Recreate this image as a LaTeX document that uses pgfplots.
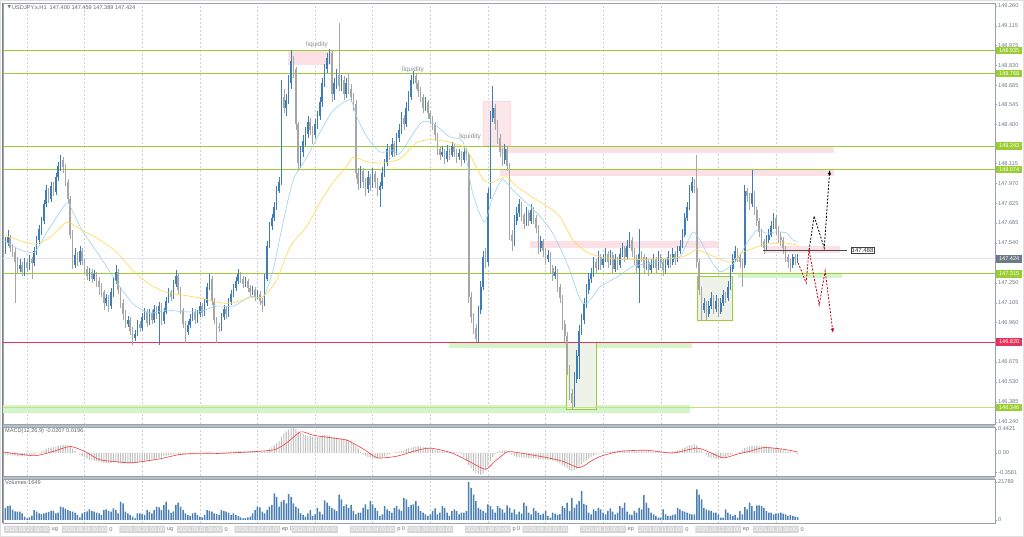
\documentclass[border=0pt]{standalone}
\usepackage{fontspec}
\setmainfont{Liberation Sans}
\newfontfamily\dejavu{DejaVu Sans}
\usepackage{pgfplots}
\usepackage{pgfplotstable}
\pgfplotsset{compat=1.18}
\usetikzlibrary{arrows.meta}
\definecolor{upc}{HTML}{3F7DB8}
\definecolor{dnc}{HTML}{A6A6A6}
\definecolor{lvl}{HTML}{9ACD32}
\definecolor{redl}{HTML}{E8315A}
\definecolor{pinkf}{HTML}{FBE1E5}
\definecolor{greenf}{HTML}{D4F5CA}
\definecolor{boxf}{HTML}{EEF2E8}
\definecolor{maBlue}{HTML}{9CD2EE}
\definecolor{maYel}{HTML}{FFD84A}
\definecolor{tickc}{HTML}{6E7B88}
\definecolor{framec}{HTML}{9AA3AD}
\definecolor{volc}{HTML}{4A7FB5}
\definecolor{histc}{HTML}{C2C2C2}
\definecolor{sigc}{HTML}{F03C3C}
\definecolor{gridc}{HTML}{D2D2D2}
\definecolor{curc}{HTML}{6F7A87}
\newcommand{\sm}{\fontsize{5.6}{6.5}\selectfont}

\pgfplotstableread{
o h l c
147.50 147.58 147.46 147.54
147.54 147.63 147.52 147.58
147.58 147.60 147.47 147.50
147.50 147.53 147.44 147.47
147.47 147.50 147.10 147.40
147.40 147.44 147.32 147.35
147.35 147.42 147.33 147.38
147.38 147.40 147.30 147.33
147.33 147.43 147.30 147.40
147.40 147.42 147.33 147.36
147.36 147.45 147.34 147.42
147.42 147.44 147.28 147.39
147.39 147.51 147.37 147.48
147.48 147.59 147.45 147.56
147.56 147.67 147.53 147.64
147.64 147.73 147.60 147.70
147.70 147.85 147.68 147.82
147.82 147.96 147.80 147.92
147.92 147.94 147.83 147.86
147.86 147.98 147.84 147.95
147.95 147.98 147.88 147.91
147.91 148.05 147.89 148.02
148.02 148.13 147.99 148.10
148.10 148.18 148.06 148.14
148.14 148.16 148.05 148.09
148.09 148.11 147.95 147.98
147.98 148.00 147.83 147.86
147.86 147.88 147.57 147.60
147.60 147.63 147.35 147.38
147.38 147.50 147.36 147.45
147.45 147.47 147.37 147.40
147.40 147.52 147.38 147.48
147.48 147.50 147.38 147.41
147.41 147.43 147.32 147.35
147.35 147.37 147.27 147.30
147.30 147.36 147.26 147.33
147.33 147.35 147.25 147.28
147.28 147.34 147.26 147.31
147.31 147.33 147.22 147.26
147.26 147.29 147.16 147.22
147.22 147.25 147.15 147.18
147.18 147.20 147.05 147.10
147.10 147.17 147.08 147.14
147.14 147.16 147.04 147.08
147.08 147.21 147.06 147.18
147.18 147.29 147.15 147.26
147.26 147.38 147.24 147.33
147.33 147.35 147.17 147.20
147.20 147.22 147.07 147.10
147.10 147.13 146.98 147.02
147.02 147.05 146.92 146.95
146.95 147.01 146.93 146.98
146.98 147.00 146.87 146.90
146.90 146.93 146.80 146.85
146.85 146.91 146.83 146.88
146.88 146.98 146.86 146.95
146.95 146.97 146.89 146.92
146.92 147.03 146.90 147.00
147.00 147.07 146.98 147.04
147.04 147.06 146.93 146.96
146.96 147.06 146.94 147.03
147.03 147.05 146.95 146.98
146.98 147.09 146.96 147.06
147.06 147.08 146.99 147.02
147.02 147.11 146.80 147.08
147.08 147.10 146.94 146.97
146.97 147.07 146.95 147.04
147.04 147.15 147.02 147.12
147.12 147.21 147.10 147.18
147.18 147.20 147.12 147.15
147.15 147.27 147.13 147.24
147.24 147.34 147.22 147.30
147.30 147.32 147.17 147.20
147.20 147.22 147.02 147.05
147.05 147.07 146.92 146.95
146.95 146.97 146.81 146.89
146.89 146.97 146.87 146.94
146.94 147.02 146.92 146.99
146.99 147.07 146.97 147.04
147.04 147.06 146.95 146.98
146.98 147.05 146.96 147.02
147.02 147.11 147.00 147.08
147.08 147.10 147.00 147.03
147.03 147.13 147.01 147.10
147.10 147.25 147.08 147.22
147.22 147.31 147.20 147.28
147.28 147.30 147.09 147.12
147.12 147.14 146.95 146.98
146.98 147.00 146.81 146.93
146.93 146.96 146.89 146.92
146.92 147.03 146.90 147.00
147.00 147.09 146.98 147.06
147.06 147.08 146.99 147.02
147.02 147.14 147.00 147.11
147.11 147.20 147.09 147.17
147.17 147.24 147.15 147.21
147.21 147.29 147.19 147.26
147.26 147.35 147.24 147.31
147.31 147.33 147.25 147.28
147.28 147.30 147.21 147.24
147.24 147.29 147.22 147.26
147.26 147.28 147.18 147.21
147.21 147.23 147.15 147.18
147.18 147.23 147.16 147.20
147.20 147.22 147.12 147.15
147.15 147.20 147.13 147.17
147.17 147.19 147.09 147.12
147.12 147.14 147.04 147.10
147.10 147.31 147.08 147.28
147.28 147.55 147.26 147.52
147.52 147.69 147.50 147.66
147.66 147.75 147.63 147.72
147.72 147.84 147.70 147.80
147.80 147.95 147.78 147.92
147.92 148.02 147.90 147.98
147.98 148.72 147.96 148.60
148.60 148.66 148.48 148.52
148.52 148.62 148.46 148.58
148.58 148.76 148.55 148.70
148.70 148.94 148.66 148.86
148.86 148.90 148.74 148.80
148.80 148.82 148.36 148.40
148.40 148.42 148.06 148.12
148.12 148.24 148.08 148.20
148.20 148.32 148.16 148.28
148.28 148.38 148.24 148.33
148.33 148.46 148.30 148.42
148.42 148.45 148.32 148.36
148.36 148.39 148.26 148.32
148.32 148.44 148.30 148.40
148.40 148.50 148.37 148.46
148.46 148.60 148.43 148.56
148.56 148.74 148.53 148.70
148.70 148.84 148.67 148.80
148.80 148.92 148.77 148.88
148.88 148.95 148.84 148.92
148.92 148.94 148.56 148.62
148.62 148.74 148.58 148.70
148.70 148.80 148.66 148.76
148.76 149.14 148.64 148.68
148.68 148.76 148.64 148.72
148.72 148.75 148.58 148.62
148.62 148.74 148.59 148.70
148.70 148.77 148.62 148.66
148.66 148.69 148.56 148.60
148.60 148.63 148.50 148.55
148.55 148.58 148.00 148.05
148.05 148.08 147.92 147.97
147.97 148.10 147.94 148.06
148.06 148.08 147.94 147.98
147.98 148.01 147.88 147.93
147.93 148.06 147.90 148.02
148.02 148.04 147.92 147.96
147.96 148.08 147.94 148.04
148.04 148.06 147.94 147.98
147.98 148.01 147.88 147.92
147.92 147.98 147.80 147.95
147.95 148.09 147.93 148.05
148.05 148.15 148.02 148.12
148.12 148.26 148.10 148.22
148.22 148.24 148.14 148.18
148.18 148.30 148.16 148.26
148.26 148.28 148.16 148.20
148.20 148.34 148.18 148.30
148.30 148.40 148.27 148.36
148.36 148.49 148.33 148.45
148.45 148.47 148.36 148.40
148.40 148.56 148.38 148.52
148.52 148.64 148.50 148.60
148.60 148.76 148.58 148.72
148.72 148.79 148.69 148.75
148.75 148.77 148.66 148.70
148.70 148.72 148.60 148.64
148.64 148.67 148.56 148.60
148.60 148.62 148.48 148.52
148.52 148.60 148.50 148.56
148.56 148.58 148.44 148.48
148.48 148.50 148.40 148.44
148.44 148.46 148.36 148.40
148.40 148.42 148.28 148.32
148.32 148.34 148.18 148.22
148.22 148.24 148.14 148.18
148.18 148.24 148.16 148.20
148.20 148.22 148.11 148.15
148.15 148.25 148.13 148.21
148.21 148.23 148.14 148.18
148.18 148.27 148.16 148.24
148.24 148.26 148.16 148.20
148.20 148.22 148.12 148.16
148.16 148.22 148.14 148.19
148.19 148.21 148.10 148.14
148.14 148.24 148.12 148.20
148.20 148.23 148.14 148.18
148.18 148.20 147.10 147.15
147.15 147.18 146.96 147.00
147.00 147.03 146.88 146.92
146.92 146.95 146.82 146.84
146.84 147.08 146.82 147.05
147.05 147.26 147.02 147.22
147.22 147.48 147.20 147.44
147.44 147.50 147.36 147.40
147.40 147.94 147.37 147.90
147.90 148.50 147.86 148.45
148.45 148.68 148.42 148.52
148.52 148.55 148.36 148.40
148.40 148.43 148.26 148.30
148.30 148.33 148.16 148.20
148.20 148.23 148.10 148.14
148.14 148.26 148.11 148.22
148.22 148.24 148.06 148.10
148.10 148.12 147.56 147.60
147.60 147.63 147.48 147.55
147.55 147.74 147.52 147.70
147.70 147.80 147.67 147.76
147.76 147.86 147.73 147.82
147.82 147.84 147.70 147.74
147.74 147.76 147.64 147.68
147.68 147.80 147.66 147.76
147.76 147.78 147.66 147.70
147.70 147.82 147.68 147.78
147.78 147.80 147.68 147.72
147.72 147.74 147.61 147.65
147.65 147.67 147.46 147.50
147.50 147.59 147.47 147.55
147.55 147.57 147.44 147.48
147.48 147.50 147.38 147.42
147.42 147.49 147.40 147.45
147.45 147.47 147.32 147.36
147.36 147.38 147.26 147.30
147.30 147.37 147.28 147.33
147.33 147.35 147.18 147.22
147.22 147.24 147.10 147.14
147.14 147.16 146.91 146.95
146.95 146.98 146.82 146.86
146.86 146.89 146.58 146.62
146.62 146.65 146.40 146.45
146.45 146.48 146.33 146.38
146.38 146.60 146.35 146.55
146.55 146.76 146.52 146.72
146.72 146.94 146.55 146.90
146.90 147.02 146.87 146.98
146.98 147.14 146.95 147.10
147.10 147.24 147.07 147.20
147.20 147.32 147.17 147.28
147.28 147.36 147.25 147.32
147.32 147.44 147.29 147.40
147.40 147.42 147.32 147.36
147.36 147.48 147.34 147.44
147.44 147.46 147.34 147.38
147.38 147.46 147.36 147.42
147.42 147.50 147.40 147.46
147.46 147.48 147.36 147.40
147.40 147.49 147.38 147.45
147.45 147.47 147.31 147.35
147.35 147.46 147.33 147.42
147.42 147.44 147.34 147.38
147.38 147.50 147.36 147.46
147.46 147.54 147.44 147.50
147.50 147.52 147.40 147.44
147.44 147.56 147.42 147.52
147.52 147.62 147.50 147.56
147.56 147.58 147.44 147.48
147.48 147.50 147.38 147.42
147.42 147.45 147.32 147.36
147.36 147.64 147.10 147.46
147.46 147.48 147.40 147.44
147.44 147.46 147.32 147.36
147.36 147.44 147.34 147.40
147.40 147.42 147.30 147.34
147.34 147.42 147.32 147.38
147.38 147.46 147.36 147.42
147.42 147.44 147.32 147.36
147.36 147.48 147.34 147.44
147.44 147.46 147.36 147.40
147.40 147.42 147.30 147.34
147.34 147.42 147.32 147.38
147.38 147.48 147.36 147.44
147.44 147.46 147.36 147.40
147.40 147.50 147.38 147.46
147.46 147.48 147.38 147.42
147.42 147.52 147.40 147.48
147.48 147.56 147.46 147.52
147.52 147.64 147.50 147.60
147.60 147.76 147.58 147.72
147.72 147.84 147.70 147.80
147.80 147.96 147.78 147.92
147.92 148.02 147.90 147.98
147.98 148.00 147.90 147.94
147.94 148.18 147.36 147.40
147.40 147.42 147.16 147.20
147.20 147.22 146.98 147.05
147.05 147.14 147.03 147.10
147.10 147.12 146.98 147.02
147.02 147.12 147.00 147.08
147.08 147.18 147.06 147.14
147.14 147.16 147.02 147.06
147.06 147.16 147.04 147.12
147.12 147.14 147.00 147.04
147.04 147.14 147.02 147.10
147.10 147.20 147.08 147.16
147.16 147.18 147.10 147.14
147.14 147.26 147.12 147.22
147.22 147.38 147.20 147.35
147.35 147.46 147.33 147.42
147.42 147.52 147.40 147.48
147.48 147.50 147.40 147.44
147.44 147.46 147.36 147.40
147.40 147.42 147.22 147.38
147.38 147.96 147.36 147.92
147.92 147.94 147.84 147.88
147.88 147.90 147.78 147.82
147.82 148.07 147.80 147.90
147.90 147.92 147.74 147.78
147.78 147.80 147.66 147.70
147.70 147.72 147.58 147.62
147.62 147.64 147.51 147.55
147.55 147.57 147.46 147.50
147.50 147.60 147.48 147.56
147.56 147.64 147.54 147.60
147.60 147.70 147.58 147.66
147.66 147.76 147.64 147.72
147.72 147.74 147.60 147.64
147.64 147.66 147.54 147.58
147.58 147.62 147.52 147.56
147.56 147.58 147.46 147.50
147.50 147.52 147.40 147.44
147.44 147.46 147.36 147.40
147.40 147.42 147.33 147.38
147.38 147.46 147.36 147.44
147.44 147.46 147.38 147.42
147.40 147.46 147.39 147.42
}\candles

\pgfplotstableread[row sep=\\]{m\\
-0.03\\ -0.04\\ -0.04\\ -0.05\\ -0.05\\ -0.06\\ -0.06\\ -0.06\\ -0.05\\ -0.05\\ -0.04\\ -0.04\\ -0.03\\ -0.01\\ 0.01\\
0.03\\ 0.05\\ 0.07\\ 0.09\\ 0.10\\ 0.11\\ 0.12\\ 0.13\\ 0.14\\ 0.15\\ 0.15\\ 0.14\\ 0.12\\ 0.08\\
0.04\\ 0.00\\ -0.03\\ -0.06\\ -0.08\\ -0.10\\ -0.12\\ -0.13\\ -0.14\\ -0.15\\ -0.16\\ -0.17\\
-0.18\\ -0.18\\ -0.19\\ -0.18\\ -0.17\\ -0.17\\ -0.18\\ -0.19\\ -0.19\\ -0.19\\ -0.19\\ -0.19\\ -0.19\\ -0.18\\ -0.18\\ -0.17\\ -0.16\\ -0.15\\ -0.14\\ -0.13\\
-0.12\\ -0.11\\ -0.10\\ -0.09\\ -0.08\\ -0.06\\ -0.05\\
-0.04\\ -0.03\\ -0.02\\ -0.02\\ -0.02\\ -0.03\\ -0.03\\ -0.03\\ -0.02\\ -0.02\\ -0.01\\ -0.01\\ 0.00\\ 0.00\\ 0.01\\ 0.01\\ 0.02\\
0.02\\ 0.01\\ 0.00\\ 0.00\\ 0.00\\ 0.01\\ 0.01\\ 0.02\\ 0.02\\ 0.03\\ 0.03\\ 0.04\\ 0.04\\ 0.04\\ 0.03\\ 0.03\\ 0.03\\ 0.03\\ 0.03\\ 0.02\\ 0.02\\ 0.02\\ 0.02\\ 0.03\\ 0.05\\ 0.08\\ 0.11\\
0.14\\ 0.18\\ 0.22\\ 0.30\\ 0.36\\ 0.40\\ 0.43\\ 0.45\\ 0.46\\
0.44\\ 0.40\\ 0.37\\ 0.35\\ 0.33\\ 0.32\\ 0.31\\ 0.30\\ 0.30\\ 0.30\\ 0.31\\ 0.32\\ 0.33\\ 0.33\\ 0.32\\ 0.30\\ 0.29\\ 0.28\\ 0.27\\ 0.27\\ 0.26\\ 0.25\\ 0.24\\
0.22\\ 0.18\\ 0.13\\ 0.08\\ 0.03\\
-0.02\\ -0.05\\ -0.07\\ -0.08\\ -0.09\\ -0.10\\ -0.10\\ -0.09\\ -0.08\\ -0.06\\ -0.04\\
-0.02\\ 0.00\\ 0.01\\ 0.02\\ 0.03\\ 0.04\\ 0.05\\ 0.07\\ 0.09\\ 0.10\\ 0.11\\
0.12\\ 0.12\\ 0.12\\ 0.11\\ 0.11\\ 0.10\\ 0.09\\
0.07\\ 0.06\\ 0.05\\ 0.04\\ 0.03\\ 0.02\\ 0.02\\ 0.02\\ 0.02\\ 0.02\\ 0.01\\ 0.01\\
-0.02\\ -0.08\\ -0.15\\ -0.22\\ -0.28\\ -0.33\\ -0.37\\ -0.39\\ -0.40\\
-0.38\\ -0.32\\ -0.24\\ -0.15\\ -0.08\\ -0.02\\ 0.02\\ 0.04\\ 0.05\\ 0.05\\ 0.04\\
-0.01\\ -0.04\\ -0.06\\ -0.07\\ -0.08\\ -0.08\\ -0.09\\ -0.09\\ -0.09\\ -0.10\\ -0.10\\ -0.10\\ -0.11\\ -0.11\\ -0.12\\ -0.12\\ -0.13\\ -0.13\\ -0.14\\ -0.15\\ -0.17\\ -0.19\\ -0.22\\ -0.25\\ -0.28\\ -0.31\\ -0.33\\ -0.32\\
-0.29\\ -0.25\\ -0.21\\ -0.17\\ -0.13\\ -0.10\\ -0.07\\ -0.05\\ -0.03\\ -0.01\\ 0.00\\
0.01\\ 0.02\\ 0.02\\ 0.03\\ 0.03\\ 0.03\\ 0.03\\ 0.04\\ 0.04\\ 0.04\\ 0.04\\ 0.04\\ 0.04\\ 0.03\\ 0.03\\ 0.03\\ 0.03\\ 0.03\\ 0.03\\ 0.03\\ 0.02\\ 0.02\\ 0.02\\ 0.02\\ 0.02\\ 0.02\\ 0.02\\ 0.02\\ 0.02\\ 0.03\\
0.04\\ 0.05\\ 0.06\\ 0.08\\ 0.10\\ 0.12\\ 0.14\\ 0.15\\ 0.16\\ 0.14\\ 0.10\\
0.05\\ 0.00\\ -0.04\\ -0.07\\ -0.09\\ -0.10\\ -0.11\\ -0.11\\ -0.10\\ -0.09\\ -0.07\\
-0.05\\ -0.03\\ -0.01\\ 0.00\\ 0.01\\ 0.02\\
0.05\\ 0.09\\ 0.11\\ 0.12\\ 0.13\\ 0.13\\ 0.13\\ 0.13\\ 0.12\\ 0.12\\ 0.11\\ 0.11\\ 0.10\\ 0.10\\ 0.09\\ 0.08\\ 0.07\\ 0.05\\ 0.03\\ 0.02\\ 0.01\\ 0.00\\ -0.01\\ -0.02\\
}\macd

\pgfplotstableread[row sep=\\]{v\\
7000\\ 8000\\ 8300\\ 6000\\ 5000\\ 4800\\ 4800\\ 3800\\ 1900\\ 950\\ 1500\\ 2500\\
5700\\ 4800\\ 3800\\ 3400\\ 3800\\ 4200\\ 4600\\ 5300\\ 5300\\ 3800\\ 4200\\
7600\\ 7200\\ 6500\\ 5700\\ 5300\\ 4800\\ 4200\\ 2900\\ 1500\\ 3800\\ 4500\\ 5000\\
6100\\ 5300\\ 4800\\ 4200\\ 3800\\ 2900\\ 5700\\ 6100\\ 5300\\ 4800\\ 6700\\ 5700\\ 3800\\
10500\\ 9500\\ 4800\\ 3800\\ 2900\\ 1900\\ 950\\ 3800\\ 3800\\ 3400\\ 2900\\
5700\\ 4800\\ 3800\\ 5700\\ 7600\\ 7200\\ 5700\\ 8600\\ 10500\\ 6000\\ 4000\\ 5000\\
8600\\ 9900\\ 7600\\ 5700\\ 3800\\ 2900\\ 2300\\ 3800\\ 4200\\ 2900\\ 1900\\ 1500\\ 3000\\
5700\\ 5300\\ 4800\\ 3800\\ 3400\\ 2900\\ 5700\\ 5300\\ 4800\\ 4200\\ 2900\\
3800\\ 2900\\ 2300\\ 1500\\ 950\\ 1100\\ 1500\\ 1900\\ 3800\\ 5700\\ 7600\\ 7200\\ 4800\\ 3800\\
5700\\ 7600\\ 8600\\ 15200\\ 13300\\ 7600\\ 10500\\ 11400\\ 9500\\ 14800\\ 13300\\
9500\\ 7600\\ 6700\\ 3800\\ 2900\\ 1900\\ 3800\\ 5700\\
2300\\ 3200\\ 7000\\ 4800\\ 3200\\ 11200\\ 9900\\ 8000\\ 7000\\ 6100\\ 5100\\
14600\\ 11800\\ 8000\\ 8900\\ 7000\\ 8600\\ 5100\\ 3200\\ 4200\\
4200\\ 7000\\ 8900\\ 6100\\ 10800\\ 8900\\ 7000\\ 5100\\
2300\\ 3200\\ 8000\\ 6100\\ 5100\\ 4200\\ 7000\\ 8000\\ 6100\\ 5100\\ 12700\\ 11800\\ 7400\\ 8600\\
8900\\ 10800\\ 8000\\ 5100\\ 4200\\ 3200\\ 2300\\
3200\\ 5100\\ 6700\\ 3200\\ 4200\\ 8000\\ 7000\\ 4200\\ 2300\\ 5100\\ 6100\\ 5100\\ 3200\\ 4200\\
4200\\ 5100\\ 21700\\ 18400\\ 14600\\ 10800\\ 7000\\
6100\\ 5100\\ 4200\\ 8900\\ 8000\\ 6100\\ 4200\\ 8000\\ 7000\\ 6100\\ 4200\\
8400\\ 7000\\ 4200\\ 6100\\ 3200\\ 4800\\ 3600\\ 9900\\ 8000\\ 4200\\ 3200\\
7000\\ 5100\\ 4200\\ 2900\\ 3600\\ 5100\\ 2300\\ 1300\\ 4200\\ 3600\\ 2900\\ 3400\\
8000\\ 7000\\ 9900\\ 5100\\ 12700\\ 7000\\ 8900\\ 10800\\ 16500\\ 9300\\ 8500\\
4200\\ 3200\\ 6100\\ 5100\\ 7000\\ 6100\\ 4200\\ 3200\\ 5100\\ 6600\\
4800\\ 3200\\ 4200\\ 8000\\ 7000\\ 9900\\ 4800\\ 3200\\ 2900\\
5100\\ 4200\\ 7000\\ 6100\\ 14200\\ 9900\\ 7000\\ 4200\\ 3200\\ 2300\\
1300\\ 1300\\ 6100\\ 3200\\ 2300\\ 2300\\ 2900\\ 3200\\ 7000\\ 6100\\
5100\\ 4800\\ 4200\\ 3600\\ 3200\\ 3200\\
17500\\ 14600\\ 11800\\ 7000\\ 6100\\
5500\\ 5100\\ 4200\\ 4200\\ 3200\\ 1300\\ 1300\\
6100\\ 4200\\ 3200\\ 2300\\ 2900\\ 1300\\ 5100\\ 3200\\
7400\\ 6100\\ 9900\\ 8000\\ 5100\\ 8400\\
8400\\ 8000\\ 7000\\ 5100\\ 4200\\ 4200\\
3200\\ 3600\\ 3800\\ 4200\\ 3600\\ 3200\\ 2300\\ 2900\\ 2300\\ 1900\\ 1649\\
}\vol

\pgfplotsset{panel/.style={
  scale only axis, width=992pt, xmin=-1, xmax=412.25,
  anchor=south west,
  axis line style={framec, line width=0.8pt},
  xtick={9,33,...,321}, xticklabels={},
  xmajorgrids, major x grid style={gridc, dash pattern=on 2pt off 2pt, line width=0.4pt},
  x tick style={draw=none},
  ytick pos=right, yticklabel pos=right,
  scaled y ticks=false, scaled x ticks=false,
  tick align=outside, major tick length=2pt,
  y tick style={framec, line width=0.4pt},
  yticklabel style={font=\sm, text=tickc, anchor=west, inner sep=1pt},
  clip mode=individual,
},
candle/.style={draw=none, mark=none, forget plot, error bars/.cd, y dir=both, y explicit, error mark=none}
}

\begin{document}
\begin{tikzpicture}[x=1pt,y=1pt]
\path[fill=white, draw=black!12, line width=1pt] (0.5,0.5) rectangle (1023.5,536.5);
% separators between panels
\fill[framec!70] (3,110) rectangle (995,113);
\fill[framec!70] (3,58) rectangle (995,61);

%================ main panel
\begin{axis}[panel, at={(3pt,113pt)}, height=421pt, ymin=146.224, ymax=149.282,
  ytick={146.240,146.385,146.530,146.675,146.960,147.105,147.250,147.540,147.685,147.825,147.970,148.115,148.400,148.545,148.685,148.830,148.975,149.115,149.260},
  yticklabels={146.240,146.385,146.530,146.675,146.960,147.105,147.250,147.540,147.685,147.825,147.970,148.115,148.400,148.545,148.685,148.830,148.975,149.115,149.260}]
% zones
\fill[pinkf] (axis cs:117.8,148.83) rectangle (axis cs:136,148.94);
\filldraw[fill=pinkf, fill opacity=0.8, draw=red!15, line width=0.6pt] (axis cs:199,148.251) rectangle (axis cs:210.3,148.57);
\fill[pinkf] (axis cs:206,148.193) rectangle (axis cs:345.3,148.236);
\fill[pinkf] (axis cs:206,148.025) rectangle (axis cs:345.3,148.069);
\fill[pinkf] (axis cs:218.6,147.503) rectangle (axis cs:297,147.553);
\fill[pinkf] (axis cs:316.5,147.466) rectangle (axis cs:347.75,147.517);
\fill[greenf] (axis cs:184.8,146.776) rectangle (axis cs:286.1,146.820);
\fill[greenf] (axis cs:-1,146.304) rectangle (axis cs:285.25,146.362);
\fill[greenf] (axis cs:305.25,147.285) rectangle (axis cs:348.6,147.321);
\filldraw[fill=boxf, draw=lvl, line width=0.6pt] (axis cs:233.6,146.333) rectangle (axis cs:246,146.820);
\filldraw[fill=boxf, draw=lvl, line width=0.6pt] (axis cs:288.2,146.980) rectangle (axis cs:302.75,147.299);
% level lines
\draw[lvl, line width=0.7pt] (axis cs:-1,148.935) -- (axis cs:412.25,148.935);
\draw[lvl, line width=0.7pt] (axis cs:-1,148.768) -- (axis cs:412.25,148.768);
\draw[lvl, line width=0.7pt] (axis cs:-1,148.243) -- (axis cs:412.25,148.243);
\draw[lvl, line width=0.7pt] (axis cs:-1,148.074) -- (axis cs:412.25,148.074);
\draw[lvl, line width=0.7pt] (axis cs:-1,147.315) -- (axis cs:412.25,147.315);
\draw[lvl!60, line width=0.7pt] (axis cs:-1,146.346) -- (axis cs:412.25,146.346);
\draw[redl, line width=0.7pt] (axis cs:-1,146.820) -- (axis cs:412.25,146.820);
\draw[blue!12, line width=0.6pt] (axis cs:-1,147.424) -- (axis cs:412.25,147.424);
% candles: wicks
\addplot[candle, error bar style={draw=upc, line width=0.6pt}]
  table[x expr=\coordindex, y expr={\thisrow{c}>=\thisrow{o} ? 0.5*(\thisrow{h}+\thisrow{l}) : nan},
        y error expr={0.5*(\thisrow{h}-\thisrow{l})}] {\candles};
\addplot[candle, error bar style={draw=dnc, line width=0.6pt}]
  table[x expr=\coordindex, y expr={\thisrow{c}<\thisrow{o} ? 0.5*(\thisrow{h}+\thisrow{l}) : nan},
        y error expr={0.5*(\thisrow{h}-\thisrow{l})}] {\candles};
% candles: bodies
\addplot[candle, error bar style={draw=upc, line width=1.6pt}]
  table[x expr=\coordindex, y expr={\thisrow{c}>=\thisrow{o} ? 0.5*(\thisrow{o}+\thisrow{c}) : nan},
        y error expr={max(0.5*abs(\thisrow{c}-\thisrow{o}),0.004)}] {\candles};
\addplot[candle, error bar style={draw=dnc, line width=1.6pt}]
  table[x expr=\coordindex, y expr={\thisrow{c}<\thisrow{o} ? 0.5*(\thisrow{o}+\thisrow{c}) : nan},
        y error expr={max(0.5*abs(\thisrow{c}-\thisrow{o}),0.004)}] {\candles};
% moving averages
\addplot[maBlue, line width=0.6pt, smooth, tension=0.4] coordinates {(-1,147.56) (6,147.49) (12,147.47) (16,147.58) (20,147.69) (25.6,147.83) (27.7,147.78) (32,147.63) (39.4,147.44) (46.5,147.25) (53,147.10) (60,147.03) (67,147.05) (74,147.04) (81,147.04) (88,147.08) (95,147.08) (102,147.15) (107.5,147.15) (111.5,147.34) (115.7,147.69) (120,148.00) (125.5,148.16) (131,148.34) (136.5,148.50) (143.6,148.58) (146.5,148.45) (150.6,148.31) (156,148.20) (161.5,148.21) (164.4,148.19) (173,148.41) (178,148.41) (185,148.31) (190.7,148.27) (194.4,147.92) (199.4,147.69) (203,147.87) (207,148.00) (211.5,147.92) (217,147.83) (222.75,147.73) (228,147.61) (234,147.39) (239.4,147.13) (242.3,147.10) (247.75,147.22) (254.75,147.29) (261.5,147.37) (268.6,147.39) (275.6,147.42) (281,147.44) (284,147.54) (286.5,147.62) (289.4,147.56) (293.6,147.42) (297.75,147.33) (302,147.37) (304.75,147.42) (309,147.54) (313,147.63) (317.3,147.61) (321.5,147.62) (325.7,147.61) (328,147.56) (330,147.55)};
\addplot[maYel, line width=0.6pt, smooth, tension=0.4] coordinates {(-1,147.60) (11.5,147.53) (18.6,147.58) (25.6,147.69) (32,147.63) (39.4,147.56) (46.5,147.47) (53,147.34) (60,147.24) (67,147.18) (74,147.16) (81,147.14) (88,147.11) (93.6,147.10) (102,147.14) (107.5,147.15) (113,147.27) (118.6,147.51) (125.5,147.66) (131,147.83) (136.5,147.98) (142,148.09) (144.8,148.16) (150.6,148.13) (157.3,148.12) (164.4,148.15) (171.5,148.27) (178,148.29) (185,148.27) (192,148.22) (199,148.00) (203,147.98) (208.6,148.02) (213,147.95) (219.75,147.87) (227,147.79) (231,147.73) (236.5,147.56) (242.3,147.47) (247.75,147.44) (254.75,147.42) (268.6,147.42) (282.5,147.44) (288,147.49) (296.5,147.43) (302,147.40) (307.3,147.47) (313,147.51) (317.3,147.53) (324,147.54) (328,147.53) (330,147.52)};
% annotations
\draw[black!70, line width=0.7pt] (axis cs:315.6,147.488) -- (axis cs:350.7,147.488);
\addplot[black, line width=0.8pt, dash pattern=on 2pt off 1.5pt, -{Latex[length=4.5pt,width=3.5pt]}] coordinates {(334.8,147.488) (336.9,147.735) (341.1,147.503) (343.4,148.069)};
\addplot[red!75!black, line width=0.8pt, dash pattern=on 2pt off 1.5pt, -{Latex[length=4.5pt,width=3.5pt]}] coordinates {(330.25,147.394) (333.6,147.249) (334.75,147.488) (339,147.089) (341.5,147.336) (344.75,146.885)};
\node[text=black!45, font=\fontsize{6.5}{7}\selectfont] at (axis cs:129.8,148.975) {liquidity};
\node[text=black!45, font=\fontsize{6.5}{7}\selectfont] at (axis cs:169.8,148.80) {liquidity};
\node[text=black!45, font=\fontsize{6.5}{7}\selectfont] at (axis cs:193.6,148.31) {liquidity};
\end{axis}

%================ MACD panel
\begin{axis}[panel, at={(3pt,61pt)}, height=49pt, ymin=-0.424, ymax=0.479,
  ytick={-0.3581,0,0.4421}, yticklabels={-0.3581,0.00,0.4421}]
\addplot[ybar, bar width=1.1pt, fill=histc, draw=none] table[x expr=\coordindex, y=m] {\macd};
\addplot[sigc, line width=0.6pt, smooth, tension=0.4] coordinates {(-1,0.02) (12,-0.05) (20,0.03) (27,0.12) (33,0.03) (39,-0.12) (46,-0.16) (53,-0.18) (64,-0.11) (74,-0.02) (88,-0.01) (102,0.02) (112,0.06) (117,0.18) (123,0.39) (128,0.33) (134,0.29) (142,0.24) (146,0.15) (150,0.05) (155,-0.09) (163,-0.06) (170,0.03) (177,0.09) (186,0.00) (193,-0.15) (200,-0.30) (204,-0.15) (209,0.02) (213,0.01) (225,-0.08) (232,-0.15) (239,-0.27) (244,-0.15) (248,-0.06) (256,0.03) (267,0.05) (278,0.00) (288,0.09) (293,0.02) (299,-0.09) (305,-0.02) (310,0.03) (316,0.10) (324,0.07) (330,0.02)};
\end{axis}

%================ Volume panel
\begin{axis}[panel, at={(3pt,14pt)}, height=44pt, ymin=-1720, ymax=23508,
  ytick={0,21789}, yticklabels={0,21789}]
\addplot[ybar, bar width=1.5pt, fill=volc, draw=none] table[x expr=\coordindex, y=v] {\vol};
\end{axis}

% left border
\draw[framec!80!black, line width=1.6pt] (2.5,14) -- (2.5,534);

% header and panel labels
\node[anchor=west, text=black!55, font=\dejavu\fontsize{4.5}{5}\selectfont] at (4,529.5) {▼};
\node[anchor=west, text=black!60, font=\sm, inner sep=0pt] at (12,529.5) {USDJPY.s,H1\ \ 147.400 147.459 147.389 147.424};
\node[anchor=west, text=black!60, font=\sm, inner sep=0pt] at (5,105.5) {MACD(12,26,9) -0.0207 0.0196};
\node[anchor=west, text=black!60, font=\sm, inner sep=0pt] at (5,54) {Volumes 1649};

% right-side level labels
\tikzset{lab/.style={anchor=west, inner sep=0.5pt, minimum width=26pt, minimum height=7.5pt, text=white, font=\sm}}
\node[lab, fill=lvl] at (996,486.25) {148.935};
\node[lab, fill=lvl] at (996,463.25) {148.768};
\node[lab, fill=lvl] at (996,390.96) {148.243};
\node[lab, fill=lvl] at (996,367.7) {148.074};
\node[lab, fill=curc] at (996,278.2) {147.424};
\node[lab, fill=lvl] at (996,263.2) {147.315};
\node[lab, fill=redl] at (996,195.0) {146.820};
\node[lab, fill=lvl] at (996,129.7) {146.346};
\node[draw=black!75, fill=white, inner sep=0.8pt, font=\fontsize{6}{7}\selectfont, text=black!80] at (862.5,287) {147.488};

% time axis labels
\foreach \k/\d/\f in {0/2025.08.27/ug, 1/2025.08.28/0, 2/2025.08.29/ug, 3/2025.09.01/0, 4/2025.09.02/ep 0, 5/2025.09.03/, 6/2025.09.04/p 0, 7/2025.09.05/, 8/2025.09.08/p 0, 9/2025.09.09/, 10/2025.09.10/ep, 11/2025.09.11/0, 12/2025.09.12/ep, 13/2025.09.15/0} {
  \node[fill=black!16, text=white, font=\sm, inner sep=1pt, minimum height=7pt, rounded corners=0.5pt] at ({27+57.6*\k},7.5) {\d\ 00:00};
  \node[anchor=west, text=black!55, font=\sm, inner sep=0pt] at ({27+57.6*\k+24.5},7.5) {\f};
}
\end{tikzpicture}
\end{document}
